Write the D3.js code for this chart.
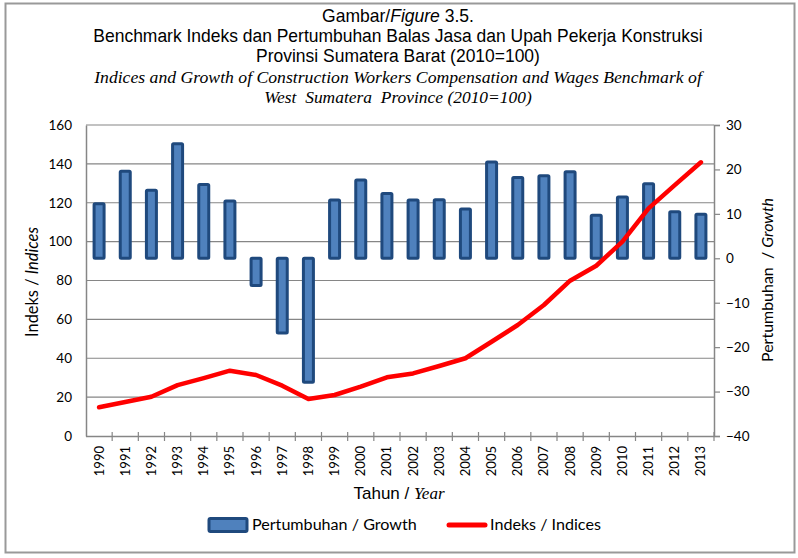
<!DOCTYPE html>
<html>
<head>
<meta charset="utf-8">
<script src="https://cdn.jsdelivr.net/npm/d3@7"></script>
<style>
  body { margin: 0; background: #fff; }
  text { fill: #000; }
</style>
</head>
<body>
<div class="d3-container"></div>
<script>
const w = 798
const h = 558

// data
const years = ['1990', '1991', '1992', '1993', '1994', '1995', '1996', '1997', '1998', '1999', '2000', '2001',
    '2002', '2003', '2004', '2005', '2006', '2007', '2008', '2009', '2010', '2011', '2012', '2013']
const growth = [12.3, 19.6, 15.3, 25.8, 16.6, 12.9, -6.1, -16.8, -27.9, 13.1, 17.6, 14.6,
    13.1, 13.2, 11.1, 21.7, 18.2, 18.6, 19.5, 9.7, 13.8, 16.8, 10.5, 9.9]
const indices = [14.8, 17.5, 20.2, 26.2, 29.8, 33.6, 31.4, 25.9, 19.0, 21.1, 25.4, 30.2,
    32.2, 36.0, 40.0, 48.5, 57.1, 67.4, 79.9, 87.6, 100.0, 117.1, 129.1, 140.8]
const leftTicks = [0, 20, 40, 60, 80, 100, 120, 140, 160]
const rightTicks = [-40, -30, -20, -10, 0, 10, 20, 30]

const barFill = '#4f81bd'
const barStroke = '#1f497d'
const gridColor = '#868686'
const sans = 'Lato, "Open Sans", sans-serif'

const svg = d3.select('.d3-container')
    .append('svg')
    .attr('width', w)
    .attr('height', h)

// outer frame
svg.append('rect')
    .attr('x', 5.5).attr('y', 3.5)
    .attr('width', 789).attr('height', 549)
    .attr('fill', 'none')
    .attr('stroke', '#999')
    .attr('stroke-width', 2)

// shrink/grow font so text fills a width
const fit = (sel, width) => {
    const node = sel.node()
    const fs = parseFloat(sel.attr('font-size'))
    const len = node.getComputedTextLength()
    sel.attr('font-size', (fs * width / len).toFixed(2))
}

// titles
const titles = [
    { y: 22, parts: [['Gambar/', 'normal'], ['Figure', 'italic'], [' 3.5.', 'normal']], serif: false, width: 152 },
    { y: 42, parts: [['Benchmark Indeks dan Pertumbuhan Balas Jasa dan Upah Pekerja Konstruksi', 'normal']], serif: false, width: 610 },
    { y: 62, parts: [['Provinsi Sumatera Barat (2010=100)', 'normal']], serif: false, width: 284 },
    { y: 83, parts: [['Indices and Growth of Construction Workers Compensation and Wages Benchmark of', 'italic']], serif: true, width: 608 },
    { y: 103, parts: [['West  Sumatera  Province (2010=100)', 'italic']], serif: true, width: 268 }
]
titles.forEach(t => {
    const txt = svg.append('text')
        .attr('x', 398)
        .attr('y', t.y)
        .attr('text-anchor', 'middle')
        .attr('font-family', t.serif ? '"Liberation Serif", serif' : '"Liberation Sans Narrow", "Liberation Sans", Arial, sans-serif')
        .attr('font-size', t.serif ? 16 : 17)
        .style('white-space', 'pre')
    t.parts.forEach(p => {
        txt.append('tspan').attr('font-style', p[1]).text(p[0])
    })
    if (t.width) fit(txt, t.width)
})

// scales
const x = d3.scaleBand()
    .domain(years)
    .range([86, 714])

const yL = d3.scaleLinear()
    .domain([0, 160])
    .range([436, 125])

const yR = d3.scaleLinear()
    .domain([-40, 30])
    .range([436, 125])

// gridlines
svg.append('g')
    .selectAll('line')
    .data(leftTicks.slice(1))
    .enter()
    .append('line')
    .attr('x1', 86).attr('x2', 714)
    .attr('y1', d => yL(d)).attr('y2', d => yL(d))
    .attr('stroke', gridColor)
    .attr('stroke-width', 1.2)

// bars
const bw = 10
svg.append('g')
    .selectAll('rect')
    .data(growth)
    .enter()
    .append('rect')
    .attr('x', (d, i) => x(years[i]) + x.bandwidth() / 2 - bw / 2)
    .attr('y', d => yR(Math.max(0, d)))
    .attr('width', bw)
    .attr('height', d => Math.abs(yR(d) - yR(0)))
    .attr('fill', barFill)
    .attr('stroke', barStroke)
    .attr('stroke-width', 3)
    .attr('rx', 1)

// index line
const line = d3.line()
    .x((d, i) => x(years[i]) + x.bandwidth() / 2)
    .y(d => yL(d))

svg.append('path')
    .datum(indices)
    .attr('d', line)
    .attr('fill', 'none')
    .attr('stroke', '#ff0000')
    .attr('stroke-width', 4.5)
    .attr('stroke-linecap', 'round')
    .attr('stroke-linejoin', 'round')

// left axis
const lAxis = d3.axisLeft(yL)
    .tickValues(leftTicks)
    .tickSize(0)
    .tickPadding(14)
svg.append('g')
    .attr('transform', 'translate(86,0)')
    .call(lAxis)
    .call(g => g.select('.domain').attr('stroke', gridColor).attr('stroke-width', 1.5))
    .call(g => g.selectAll('text').attr('font-family', sans).attr('font-size', 13.5))

// right axis
const rAxis = d3.axisRight(yR)
    .tickValues(rightTicks)
    .tickSize(6)
    .tickPadding(6)
svg.append('g')
    .attr('transform', 'translate(714,0)')
    .call(rAxis)
    .call(g => g.select('.domain').attr('stroke', gridColor).attr('stroke-width', 1.5))
    .call(g => g.selectAll('line').attr('stroke', gridColor).attr('stroke-width', 1.2))
    .call(g => g.selectAll('text').attr('font-family', sans).attr('font-size', 13.5))

// bottom axis
const bottom = svg.append('g')
bottom.append('line')
    .attr('x1', 86).attr('x2', 714)
    .attr('y1', 436.5).attr('y2', 436.5)
    .attr('stroke', gridColor)
    .attr('stroke-width', 1.5)
bottom.selectAll('.tick')
    .data(years.slice(1).concat(['end']))
    .enter()
    .append('line')
    .attr('x1', (d, i) => i < years.length - 1 ? x(d) : 714)
    .attr('x2', (d, i) => i < years.length - 1 ? x(d) : 714)
    .attr('y1', 432).attr('y2', 441)
    .attr('stroke', gridColor)
    .attr('stroke-width', 1.2)
bottom.selectAll('text')
    .data(years)
    .enter()
    .append('text')
    .attr('transform', d => `translate(${x(d) + x.bandwidth() / 2 + 4.5},446) rotate(-90)`)
    .attr('text-anchor', 'end')
    .attr('font-family', sans)
    .attr('font-size', 13)
    .text(d => d)

// axis titles
const yTitle = svg.append('text')
    .attr('transform', 'translate(38,282) rotate(-90)')
    .attr('text-anchor', 'middle')
    .attr('font-family', sans)
    .attr('font-size', 15)
yTitle.append('tspan').text('Indeks / ')
yTitle.append('tspan').attr('font-style', 'italic').text('Indices')
fit(yTitle, 110)

const rTitle = svg.append('text')
    .attr('transform', 'translate(773,280) rotate(-90)')
    .attr('text-anchor', 'middle')
    .attr('font-family', sans)
    .attr('font-size', 15)
    .style('white-space', 'pre')
rTitle.append('tspan').text('Pertumbuhan  / ')
rTitle.append('tspan').attr('font-style', 'italic').text('Growth')
fit(rTitle, 164)

const xTitle = svg.append('text')
    .attr('x', 399)
    .attr('y', 499)
    .attr('text-anchor', 'middle')
    .attr('font-family', '"Liberation Sans Narrow", "Liberation Sans", sans-serif')
    .attr('font-size', 17)
xTitle.append('tspan').text('Tahun / ')
xTitle.append('tspan')
    .attr('font-family', '"Liberation Serif", serif')
    .attr('font-style', 'italic')
    .text('Year')

// legend
const legend = svg.append('g')
legend.append('rect')
    .attr('x', 209).attr('y', 518.5)
    .attr('width', 38).attr('height', 13)
    .attr('fill', barFill)
    .attr('stroke', barStroke)
    .attr('stroke-width', 3)
    .attr('rx', 1.5)
const l1 = legend.append('text')
    .attr('x', 252).attr('y', 530)
    .attr('font-family', sans)
    .attr('font-size', 15)
    .text('Pertumbuhan / Growth')
fit(l1, 165)
legend.append('line')
    .attr('x1', 449).attr('x2', 485)
    .attr('y1', 525).attr('y2', 525)
    .attr('stroke', '#ff0000')
    .attr('stroke-width', 5)
    .attr('stroke-linecap', 'round')
const l2 = legend.append('text')
    .attr('x', 490).attr('y', 530)
    .attr('font-family', sans)
    .attr('font-size', 15)
    .text('Indeks / Indices')
fit(l2, 111)
</script>
</body>
</html>
